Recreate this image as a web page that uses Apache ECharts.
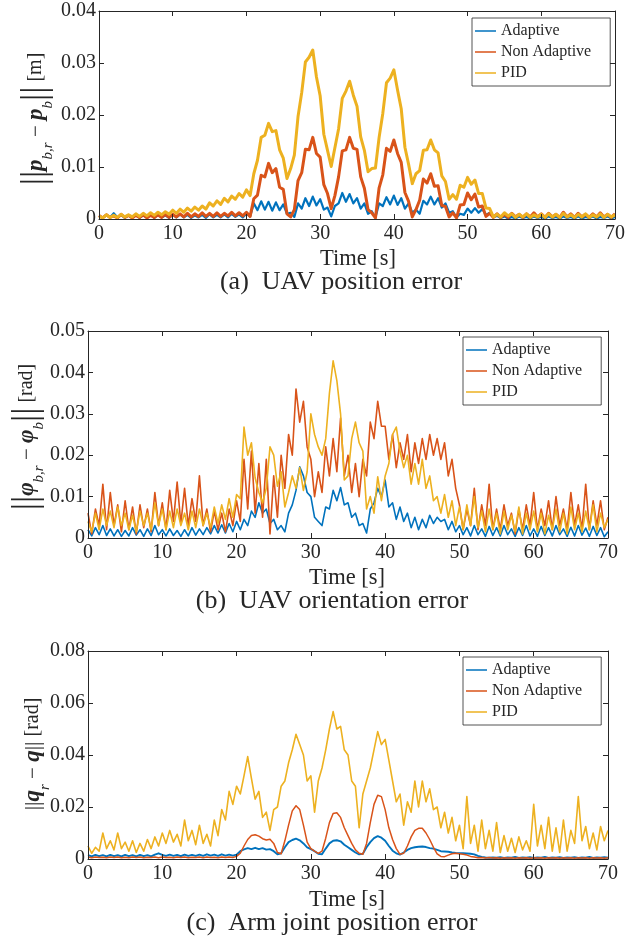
<!DOCTYPE html>
<html>
<head>
<meta charset="utf-8">
<script src="https://cdn.jsdelivr.net/npm/echarts@6.0.0/dist/echarts.min.js"></script>
<style>
  html, body { margin: 0; padding: 0; background: #ffffff; }
  #chart { width: 628px; height: 940px; }
</style>
</head>
<body>
<div id="chart"></div>
<script>
// Sample spacing of every series below [s]
const timeStep = 0.5;
const seriesNames = ['Adaptive', 'Non Adaptive', 'PID'];
const seriesColors = ['#0072BD', '#D95319', '#EDB120'];
const xTickValues = [0, 10, 20, 30, 40, 50, 60, 70];
const yMaxValues = [0.04, 0.05, 0.08];
const yStepValues = [0.01, 0.01, 0.02];

// (a) UAV position error [m]
const uavPosAdaptive = [
  0.0006,0.0002,0.0008,0.0003,0.0011,0.0003,0.0008,0.0002,0.0007,0.0003,
  0.0008,0.0002,0.0007,0.0003,0.0009,0.0002,0.0008,0.0003,0.0007,0.0002,
  0.0008,0.0003,0.0009,0.0003,0.0008,0.0002,0.0007,0.0003,0.0008,0.0002,
  0.0009,0.0003,0.0008,0.0003,0.0009,0.0003,0.0010,0.0004,0.0009,0.0003,
  0.0010,0.0005,0.0030,0.0017,0.0034,0.0018,0.0033,0.0016,0.0032,0.0017,
  0.0028,0.0010,0.0012,0.0004,0.0030,0.0020,0.0040,0.0025,0.0043,0.0026,
  0.0038,0.0018,0.0022,0.0005,0.0025,0.0030,0.0050,0.0033,0.0048,0.0030,
  0.0040,0.0020,0.0030,0.0010,0.0015,0.0003,0.0030,0.0025,0.0042,0.0028,
  0.0045,0.0027,0.0040,0.0020,0.0030,0.0012,0.0018,0.0010,0.0035,0.0028,
  0.0043,0.0028,0.0040,0.0022,0.0030,0.0012,0.0015,0.0003,0.0010,0.0008,
  0.0020,0.0012,0.0021,0.0012,0.0019,0.0008,0.0012,0.0004,0.0006,0.0002,
  0.0005,0.0001,0.0004,0.0001,0.0005,0.0002,0.0004,0.0001,0.0005,0.0002,
  0.0004,0.0001,0.0005,0.0002,0.0004,0.0001,0.0005,0.0002,0.0004,0.0001,
  0.0005,0.0001,0.0004,0.0002,0.0005,0.0001,0.0004,0.0002,0.0005,0.0001,
  0.0004
];
const uavPosNonAdaptive = [
  0.0007,0.0002,0.0008,0.0003,0.0006,0.0002,0.0009,0.0003,0.0007,0.0002,
  0.0007,0.0003,0.0008,0.0002,0.0007,0.0003,0.0008,0.0003,0.0009,0.0003,
  0.0009,0.0004,0.0010,0.0004,0.0011,0.0004,0.0010,0.0005,0.0012,0.0005,
  0.0011,0.0005,0.0012,0.0005,0.0011,0.0006,0.0013,0.0006,0.0012,0.0006,
  0.0013,0.0005,0.0039,0.0046,0.0084,0.0081,0.0107,0.0089,0.0097,0.0061,
  0.0057,0.0010,0.0004,0.0018,0.0074,0.0089,0.0134,0.0133,0.0157,0.0126,
  0.0119,0.0066,0.0049,0.0020,0.0045,0.0081,0.0131,0.0133,0.0157,0.0136,
  0.0134,0.0081,0.0059,0.0018,0.0012,0.0002,0.0060,0.0085,0.0136,0.0130,
  0.0152,0.0126,0.0109,0.0051,0.0034,0.0004,0.0018,0.0036,0.0077,0.0069,
  0.0087,0.0063,0.0064,0.0026,0.0024,0.0004,0.0012,0.0002,0.0027,0.0028,
  0.0050,0.0037,0.0048,0.0023,0.0025,0.0005,0.0011,0.0003,0.0010,0.0003,
  0.0009,0.0003,0.0011,0.0004,0.0009,0.0003,0.0010,0.0004,0.0012,0.0004,
  0.0010,0.0003,0.0011,0.0004,0.0009,0.0003,0.0013,0.0004,0.0010,0.0003,
  0.0011,0.0004,0.0009,0.0003,0.0010,0.0004,0.0012,0.0004,0.0009,0.0003,
  0.0010
];
const uavPosPID = [
  0.0006,0.0002,0.0008,0.0003,0.0007,0.0003,0.0009,0.0004,0.0008,0.0004,
  0.0010,0.0005,0.0011,0.0006,0.0012,0.0007,0.0013,0.0008,0.0014,0.0009,
  0.0017,0.0011,0.0019,0.0013,0.0021,0.0015,0.0023,0.0017,0.0025,0.0019,
  0.0031,0.0025,0.0035,0.0028,0.0040,0.0033,0.0044,0.0038,0.0049,0.0042,
  0.0056,0.0045,0.0087,0.0113,0.0157,0.0161,0.0184,0.0168,0.0170,0.0133,
  0.0117,0.0078,0.0097,0.0123,0.0197,0.0243,0.0302,0.0311,0.0325,0.0273,
  0.0237,0.0163,0.0132,0.0101,0.0137,0.0173,0.0232,0.0246,0.0265,0.0238,
  0.0217,0.0158,0.0132,0.0091,0.0097,0.0098,0.0157,0.0203,0.0262,0.0271,
  0.0287,0.0248,0.0212,0.0138,0.0105,0.0068,0.0087,0.0093,0.0132,0.0133,
  0.0152,0.0133,0.0127,0.0083,0.0072,0.0038,0.0047,0.0038,0.0065,0.0061,
  0.0080,0.0067,0.0075,0.0049,0.0049,0.0021,0.0020,0.0004,0.0009,0.0004,
  0.0012,0.0006,0.0010,0.0003,0.0009,0.0004,0.0010,0.0003,0.0008,0.0004,
  0.0009,0.0003,0.0010,0.0004,0.0009,0.0003,0.0011,0.0004,0.0008,0.0003,
  0.0009,0.0004,0.0010,0.0003,0.0008,0.0004,0.0010,0.0003,0.0009,0.0004,
  0.0008
];

// (b) UAV orientation error [rad]
const uavOriAdaptive = [
  0.0020,0.0005,0.0025,0.0008,0.0030,0.0006,0.0022,0.0005,0.0020,0.0004,
  0.0018,0.0005,0.0025,0.0007,0.0020,0.0004,0.0022,0.0006,0.0030,0.0008,
  0.0020,0.0005,0.0022,0.0006,0.0018,0.0004,0.0020,0.0005,0.0025,0.0007,
  0.0022,0.0008,0.0025,0.0010,0.0030,0.0012,0.0032,0.0012,0.0035,0.0015,
  0.0040,0.0020,0.0045,0.0030,0.0065,0.0050,0.0085,0.0060,0.0070,0.0035,
  0.0045,0.0020,0.0030,0.0015,0.0060,0.0080,0.0115,0.0172,0.0150,0.0110,
  0.0100,0.0050,0.0040,0.0030,0.0075,0.0070,0.0115,0.0090,0.0122,0.0080,
  0.0085,0.0050,0.0060,0.0030,0.0035,0.0012,0.0070,0.0085,0.0120,0.0100,
  0.0140,0.0075,0.0085,0.0045,0.0075,0.0040,0.0060,0.0025,0.0050,0.0020,
  0.0045,0.0025,0.0055,0.0035,0.0050,0.0040,0.0045,0.0020,0.0040,0.0015,
  0.0030,0.0008,0.0025,0.0005,0.0030,0.0008,0.0022,0.0004,0.0028,0.0006,
  0.0025,0.0005,0.0030,0.0008,0.0022,0.0004,0.0025,0.0006,0.0030,0.0005,
  0.0022,0.0004,0.0028,0.0006,0.0025,0.0005,0.0030,0.0008,0.0022,0.0004,
  0.0026,0.0005,0.0030,0.0007,0.0024,0.0004,0.0028,0.0006,0.0025,0.0003,
  0.0015
];
const uavOriNonAdaptive = [
  0.0060,0.0010,0.0070,0.0030,0.0130,0.0020,0.0110,0.0030,0.0080,0.0015,
  0.0090,0.0020,0.0075,0.0010,0.0080,0.0025,0.0070,0.0015,0.0110,0.0030,
  0.0085,0.0020,0.0115,0.0040,0.0135,0.0035,0.0120,0.0030,0.0095,0.0040,
  0.0150,0.0030,0.0070,0.0015,0.0065,0.0020,0.0060,0.0015,0.0070,0.0030,
  0.0090,0.0040,0.0190,0.0070,0.0210,0.0060,0.0180,0.0050,0.0190,0.0010,
  0.0150,0.0050,0.0200,0.0120,0.0250,0.0200,0.0360,0.0280,0.0330,0.0220,
  0.0190,0.0100,0.0160,0.0110,0.0220,0.0150,0.0240,0.0160,0.0290,0.0150,
  0.0200,0.0110,0.0180,0.0100,0.0190,0.0150,0.0280,0.0240,0.0330,0.0270,
  0.0270,0.0190,0.0250,0.0170,0.0230,0.0190,0.0250,0.0160,0.0230,0.0180,
  0.0240,0.0190,0.0250,0.0200,0.0240,0.0190,0.0230,0.0150,0.0190,0.0120,
  0.0080,0.0020,0.0070,0.0030,0.0120,0.0020,0.0080,0.0030,0.0130,0.0020,
  0.0070,0.0020,0.0080,0.0030,0.0060,0.0010,0.0070,0.0020,0.0080,0.0030,
  0.0110,0.0020,0.0070,0.0030,0.0090,0.0020,0.0100,0.0030,0.0070,0.0020,
  0.0110,0.0030,0.0080,0.0020,0.0130,0.0020,0.0090,0.0030,0.0090,0.0020,
  0.0050
];
const uavOriPID = [
  0.0040,0.0015,0.0060,0.0020,0.0070,0.0030,0.0065,0.0025,0.0075,0.0030,
  0.0060,0.0020,0.0055,0.0015,0.0065,0.0030,0.0060,0.0020,0.0085,0.0030,
  0.0070,0.0020,0.0065,0.0025,0.0070,0.0030,0.0060,0.0020,0.0065,0.0025,
  0.0070,0.0030,0.0060,0.0025,0.0075,0.0035,0.0080,0.0045,0.0095,0.0050,
  0.0105,0.0095,0.0268,0.0200,0.0230,0.0145,0.0110,0.0085,0.0120,0.0220,
  0.0200,0.0125,0.0160,0.0075,0.0110,0.0150,0.0120,0.0170,0.0115,0.0160,
  0.0300,0.0250,0.0220,0.0200,0.0240,0.0350,0.0428,0.0380,0.0300,0.0140,
  0.0150,0.0240,0.0280,0.0230,0.0210,0.0070,0.0100,0.0060,0.0148,0.0090,
  0.0150,0.0180,0.0250,0.0268,0.0210,0.0170,0.0200,0.0130,0.0180,0.0130,
  0.0190,0.0120,0.0150,0.0090,0.0100,0.0060,0.0105,0.0050,0.0090,0.0030,
  0.0075,0.0020,0.0080,0.0030,0.0100,0.0025,0.0065,0.0015,0.0070,0.0020,
  0.0060,0.0010,0.0065,0.0020,0.0055,0.0015,0.0075,0.0010,0.0060,0.0020,
  0.0065,0.0015,0.0060,0.0010,0.0055,0.0020,0.0070,0.0015,0.0060,0.0010,
  0.0075,0.0020,0.0060,0.0015,0.0065,0.0020,0.0080,0.0015,0.0060,0.0025,
  0.0045
];

// (c) Arm joint position error [rad]
const armAdaptive = [
  0.0015,0.0010,0.0016,0.0011,0.0015,0.0010,0.0016,0.0011,0.0015,0.0010,
  0.0016,0.0011,0.0015,0.0010,0.0016,0.0011,0.0015,0.0010,0.0017,0.0022,
  0.0016,0.0012,0.0017,0.0012,0.0016,0.0011,0.0017,0.0012,0.0016,0.0012,
  0.0017,0.0012,0.0018,0.0013,0.0017,0.0012,0.0018,0.0013,0.0017,0.0013,
  0.0017,0.0030,0.0037,0.0042,0.0038,0.0043,0.0038,0.0042,0.0036,0.0038,
  0.0030,0.0018,0.0022,0.0045,0.0065,0.0073,0.0078,0.0072,0.0060,0.0045,
  0.0038,0.0030,0.0020,0.0018,0.0040,0.0060,0.0070,0.0072,0.0068,0.0055,
  0.0045,0.0035,0.0025,0.0018,0.0020,0.0045,0.0065,0.0080,0.0088,0.0082,
  0.0070,0.0050,0.0032,0.0022,0.0017,0.0025,0.0035,0.0042,0.0045,0.0047,
  0.0048,0.0046,0.0042,0.0040,0.0035,0.0030,0.0029,0.0028,0.0025,0.0023,
  0.0022,0.0022,0.0021,0.0020,0.0018,0.0012,0.0008,0.0006,0.0005,0.0006,
  0.0005,0.0007,0.0004,0.0006,0.0005,0.0008,0.0004,0.0006,0.0005,0.0007,
  0.0004,0.0006,0.0005,0.0008,0.0004,0.0006,0.0005,0.0007,0.0004,0.0006,
  0.0005,0.0007,0.0004,0.0006,0.0005,0.0008,0.0004,0.0006,0.0005,0.0007,
  0.0005
];
const armNonAdaptive = [
  0.0008,0.0005,0.0008,0.0006,0.0007,0.0005,0.0008,0.0006,0.0008,0.0005,
  0.0007,0.0005,0.0008,0.0006,0.0008,0.0005,0.0007,0.0006,0.0008,0.0005,
  0.0008,0.0006,0.0007,0.0005,0.0008,0.0006,0.0008,0.0005,0.0007,0.0006,
  0.0008,0.0005,0.0008,0.0006,0.0007,0.0005,0.0008,0.0006,0.0008,0.0006,
  0.0010,0.0022,0.0050,0.0075,0.0090,0.0093,0.0088,0.0078,0.0073,0.0076,
  0.0060,0.0025,0.0020,0.0070,0.0130,0.0185,0.0205,0.0190,0.0130,0.0065,
  0.0040,0.0030,0.0022,0.0030,0.0080,0.0140,0.0175,0.0178,0.0160,0.0120,
  0.0090,0.0060,0.0035,0.0022,0.0018,0.0060,0.0140,0.0210,0.0245,0.0240,
  0.0190,0.0120,0.0075,0.0040,0.0018,0.0022,0.0050,0.0085,0.0110,0.0118,
  0.0118,0.0100,0.0075,0.0045,0.0020,0.0010,0.0009,0.0015,0.0020,0.0022,
  0.0020,0.0018,0.0015,0.0010,0.0008,0.0005,0.0006,0.0004,0.0006,0.0004,
  0.0005,0.0003,0.0005,0.0004,0.0005,0.0003,0.0005,0.0004,0.0005,0.0003,
  0.0005,0.0004,0.0005,0.0003,0.0005,0.0004,0.0005,0.0003,0.0005,0.0004,
  0.0005,0.0003,0.0005,0.0004,0.0005,0.0003,0.0005,0.0004,0.0005,0.0003,
  0.0005
];
const armPID = [
  0.0050,0.0022,0.0045,0.0030,0.0100,0.0040,0.0070,0.0035,0.0100,0.0040,
  0.0065,0.0030,0.0070,0.0025,0.0060,0.0030,0.0075,0.0040,0.0085,0.0050,
  0.0100,0.0060,0.0110,0.0065,0.0095,0.0050,0.0150,0.0070,0.0110,0.0055,
  0.0130,0.0060,0.0095,0.0050,0.0150,0.0090,0.0190,0.0150,0.0260,0.0210,
  0.0280,0.0250,0.0320,0.0394,0.0310,0.0230,0.0260,0.0160,0.0180,0.0110,
  0.0190,0.0200,0.0280,0.0300,0.0370,0.0420,0.0480,0.0440,0.0400,0.0300,
  0.0320,0.0180,0.0300,0.0350,0.0420,0.0500,0.0567,0.0500,0.0510,0.0420,
  0.0400,0.0300,0.0280,0.0120,0.0250,0.0300,0.0350,0.0420,0.0490,0.0440,
  0.0460,0.0380,0.0300,0.0220,0.0250,0.0130,0.0220,0.0180,0.0300,0.0200,
  0.0300,0.0220,0.0270,0.0190,0.0200,0.0120,0.0180,0.0100,0.0160,0.0070,
  0.0130,0.0040,0.0240,0.0060,0.0130,0.0030,0.0150,0.0040,0.0110,0.0030,
  0.0140,0.0025,0.0090,0.0030,0.0080,0.0025,0.0085,0.0035,0.0070,0.0030,
  0.0210,0.0050,0.0130,0.0040,0.0160,0.0030,0.0120,0.0025,0.0150,0.0030,
  0.0110,0.0060,0.0240,0.0070,0.0125,0.0040,0.0100,0.0035,0.0125,0.0070,
  0.0110
];

const panels = [
  [uavPosAdaptive, uavPosNonAdaptive, uavPosPID],
  [uavOriAdaptive, uavOriNonAdaptive, uavOriPID],
  [armAdaptive, armNonAdaptive, armPID]
];

// stroke widths per panel and series
const strokeWidths = [
  [2.2, 3.0, 3.0],
  [1.6, 1.6, 1.6],
  [1.9, 1.5, 1.6]
];

const ink = '#262626';
const serif = '"Liberation Serif", "Times New Roman", serif';

const grids = [
  { left: 99, top: 11, width: 519, height: 208 },
  { left: 88, top: 331, width: 520, height: 207 },
  { left: 88, top: 651, width: 520, height: 208 }
];

function toPairs(values) {
  return values.map((v, i) => [i * timeStep, v]);
}

const xAxes = [];
const yAxes = [];
const series = [];

grids.forEach((g, p) => {
  const xMin = xTickValues[0];
  const xMax = xTickValues[xTickValues.length - 1];
  const xInterval = xTickValues[1] - xTickValues[0];
  // bottom axis with labels, top axis as the box edge with mirrored ticks
  xAxes.push({
    type: 'value', gridIndex: p, position: 'bottom', min: xMin, max: xMax, interval: xInterval,
    axisLine: { show: true, onZero: false, lineStyle: { color: ink, width: 1 } },
    axisTick: { show: true, inside: true, length: 5, lineStyle: { color: ink } },
    axisLabel: { show: true, color: ink, fontFamily: serif, fontSize: 20, margin: 5 },
    splitLine: { show: false },
    z: 10
  });
  xAxes.push({
    type: 'value', gridIndex: p, position: 'top', min: xMin, max: xMax, interval: xInterval,
    axisLine: { show: true, onZero: false, lineStyle: { color: ink, width: 1 } },
    axisTick: { show: true, inside: true, length: 5, lineStyle: { color: ink } },
    axisLabel: { show: false },
    splitLine: { show: false },
    z: 10
  });
  yAxes.push({
    type: 'value', gridIndex: p, position: 'left', min: 0, max: yMaxValues[p], interval: yStepValues[p],
    axisLine: { show: true, onZero: false, lineStyle: { color: ink, width: 1 } },
    axisTick: { show: true, inside: true, length: 5, lineStyle: { color: ink } },
    axisLabel: {
      show: true, color: ink, fontFamily: serif, fontSize: 20, margin: 3,
      formatter: v => (v === 0 ? '0' : v.toFixed(2))
    },
    splitLine: { show: false },
    z: 10
  });
  yAxes.push({
    type: 'value', gridIndex: p, position: 'right', min: 0, max: yMaxValues[p], interval: yStepValues[p],
    axisLine: { show: true, onZero: false, lineStyle: { color: ink, width: 1 } },
    axisTick: { show: true, inside: true, length: 5, lineStyle: { color: ink } },
    axisLabel: { show: false },
    splitLine: { show: false },
    z: 10
  });

  panels[p].forEach((values, k) => {
    series.push({
      name: seriesNames[k],
      type: 'line',
      xAxisIndex: p * 2,
      yAxisIndex: p * 2,
      data: toPairs(values),
      showSymbol: false,
      symbol: 'none',
      clip: true,
      color: seriesColors[k],
      lineStyle: { color: seriesColors[k], width: strokeWidths[p][k], join: 'round' },
      emphasis: { disabled: true },
      z: 2 + k
    });
  });
});

function legendAt(left, top) {
  return {
    left: left, top: top, orient: 'vertical',
    data: seriesNames,
    icon: 'rect', itemWidth: 21, itemHeight: 1.5, itemGap: 5,
    padding: [5, 19, 5, 3],
    backgroundColor: '#ffffff',
    borderColor: ink, borderWidth: 0.8, borderRadius: 0,
    selectedMode: false,
    textStyle: { fontFamily: serif, fontSize: 16, color: ink }
  };
}

const richBase = {
  bar: { fontFamily: serif, fontSize: 36, lineHeight: 40, fill: ink, color: ink },
  bar2: { fontFamily: serif, fontSize: 22, lineHeight: 40, fill: ink, color: ink },
  v: { fontFamily: serif, fontSize: 23, fontStyle: 'italic', fontWeight: 'bold', lineHeight: 40, fill: ink, color: ink },
  s: { fontFamily: serif, fontSize: 15, fontStyle: 'italic', lineHeight: 28, verticalAlign: 'bottom', fill: ink, color: ink },
  m: { fontFamily: serif, fontSize: 21, lineHeight: 40, fill: ink, color: ink },
  u: { fontFamily: serif, fontSize: 20, lineHeight: 40, fill: ink, color: ink }
};

function yTitle(x, y, text) {
  return {
    type: 'text', x: x, y: y, rotation: Math.PI / 2, silent: true,
    style: { text: text, rich: richBase, align: 'center', verticalAlign: 'middle', fill: ink, font: '20px ' + serif }
  };
}

function plainText(x, y, text, size) {
  return {
    type: 'text', x: x, y: y, silent: true,
    style: { text: text, align: 'center', verticalAlign: 'middle', fill: ink, font: size + 'px ' + serif }
  };
}

const option = {
  animation: false,
  backgroundColor: '#ffffff',
  grid: grids.map(g => Object.assign({ containLabel: false }, g)),
  xAxis: xAxes,
  yAxis: yAxes,
  legend: [legendAt(472, 18), legendAt(463, 337), legendAt(463, 657)],
  series: series,
  graphic: [
    yTitle(36, 119, '{bar|||}{v|p}{s|b,r}{m| − }{v|p}{s|b}{bar|||}{u| [m]}'),
    yTitle(27, 437, '{bar|||}{v|φ}{s|b,r}{m| − }{v|φ}{s|b}{bar|||}{u| [rad]}'),
    yTitle(33, 754, '{bar2|||}{v|q}{s|r}{m| − }{v|q}{bar2|||}{u| [rad]}'),
    plainText(358, 259, 'Time [s]', 22.5),
    plainText(341, 282, '(a)  UAV position error', 26),
    plainText(347, 578, 'Time [s]', 22.5),
    plainText(332, 601, '(b)  UAV orientation error', 26),
    plainText(347, 900, 'Time [s]', 22.5),
    plainText(332, 923, '(c)  Arm joint position error', 26)
  ]
};

const chart = echarts.init(document.getElementById('chart'), null, { renderer: 'canvas' });
chart.setOption(option);
</script>
</body>
</html>
